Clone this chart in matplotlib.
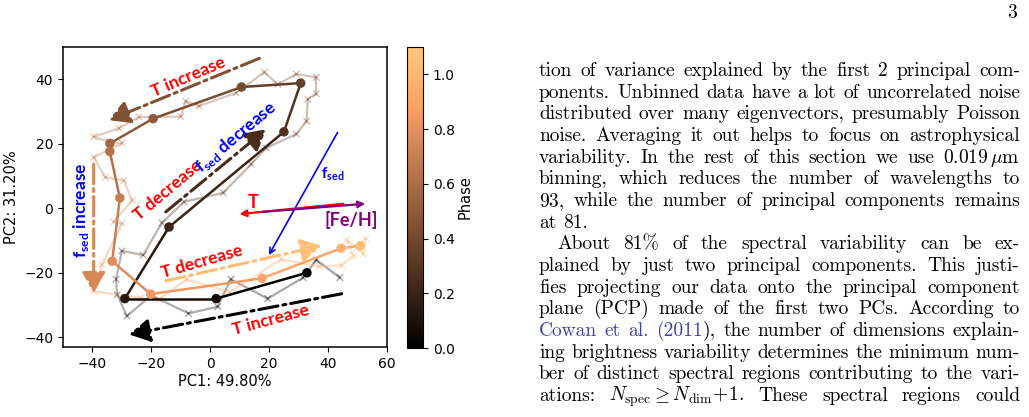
import numpy as np
import matplotlib.pyplot as plt
import matplotlib as mpl
from matplotlib.colors import Normalize
from matplotlib.transforms import IdentityTransform

plt.rcParams['mathtext.fontset'] = 'custom'
plt.rcParams['mathtext.rm'] = 'Lato:bold'
plt.rcParams['mathtext.bf'] = 'Lato:bold'

# binned PCP track (filled circles)
phase_bin = [0.0, 0.07, 0.14, 0.21, 0.28, 0.35, 0.42, 0.49,
             0.56, 0.63, 0.70, 0.77, 0.84, 0.91, 0.98, 1.05]
pc1_bin = [32.8, 2.0, -29.0, -14.0, 25.0, 30.7, 10.6, -19.4,
           -34.1, -34.1, -30.7, -33.3, -20.2, 17.6, 44.4, 50.9]
pc2_bin = [-20.0, -28.0, -28.0, -5.8, 23.7, 38.8, 37.6, 27.8,
           20.1, 17.6, 3.2, -16.4, -26.6, -21.7, -12.4, -11.6]

# unbinned track (faint, x markers)
phase_raw = [0.00, 0.02, 0.04, 0.06, 0.08, 0.10, 0.12, 0.14, 0.16, 0.18,
             0.20, 0.22, 0.24, 0.26, 0.28, 0.30, 0.32, 0.34, 0.36, 0.38,
             0.40, 0.42, 0.44, 0.46, 0.48, 0.50, 0.52, 0.54, 0.56, 0.58,
             0.60, 0.62, 0.64, 0.66, 0.68, 0.70, 0.72, 0.74, 0.76, 0.78,
             0.80, 0.82, 0.84, 0.86, 0.88, 0.90, 0.92, 0.94, 0.96, 0.98,
             1.00, 1.02, 1.04, 1.06, 1.08]
pc1_raw = [44.0, 36.0, 31.5, 19.5, 7.0, 2.5, -7.4, -20.0, -28.3, -31.6,
           -32.0, -30.0, -22.8, -16.4, -8.9, 4.4, 13.9, 19.0, 29.2, 32.7,
           33.1, 36.0, 36.0, 29.2, 22.9, 18.4, 8.8, -3.8, -8.3, -10.0,
           -24.2, -31.0, -39.6, -33.9, -29.9, -39.6, -35.6, -29.4, -26.5, -32.8,
           -29.9, -36.8, -39.6, -23.7, -17.4, -8.0, 6.6, 24.1, 37.0, 44.6,
           48.6, 46.3, 52.0, 52.9, 49.7]
pc2_raw = [-21.5, -16.0, -21.5, -28.0, -22.0, -30.5, -32.6, -27.0, -33.4, -26.8,
           -22.0, -13.2, -14.5, -4.5, 2.0, 4.8, 13.7, 18.7, 23.0, 27.0,
           33.8, 35.5, 40.6, 41.6, 38.4, 42.2, 35.8, 31.7, 33.2, 28.4,
           28.3, 24.8, 22.2, 20.4, 20.2, 15.8, 9.6, 8.6, 2.5, -4.2,
           -4.7, -17.5, -25.7, -27.8, -28.3, -22.0, -26.0, -15.8, -18.0, -17.7,
           -14.7, -9.8, -14.2, -9.3, -12.4]

# right-hand page text
page_lines = [
    "tion of variance explained by the first 2 principal com-",
    "ponents. Unbinned data have a lot of uncorrelated noise",
    "distributed over many eigenvectors, presumably Poisson",
    "noise. Averaging it out helps to focus on astrophysical",
    r"variability. In the rest of this section we use $0.019\,\mu$m",
    "binning, which reduces the number of wavelengths to",
    "93, while the number of principal components remains",
    "at 81.",
    "About 81% of the spectral variability can be ex-",
    "plained by just two principal components. This justi-",
    "fies projecting our data onto the principal component",
    "plane (PCP) made of the first two PCs. According to",
    "@Cowan @et @al. @(2011|), the number of dimensions explain-",
    "ing brightness variability determines the minimum num-",
    "ber of distinct spectral regions contributing to the vari-",
    r"ations: $N_{\rm spec}\geq N_{\rm dim}\!+\!1$. These spectral regions could",
]

cmap = mpl.colormaps['copper']
norm = Normalize(0, 1.1)

fig = plt.figure(figsize=(10.29, 4.17), dpi=100)
ax = fig.add_axes([63 / 1029, 70 / 417, 324 / 1029, 300 / 417])
cax = fig.add_axes([407 / 1029, 69 / 417, 16 / 1029, 301 / 417])

# faint unbinned track
for i in range(len(pc1_raw) - 1):
    ax.plot(pc1_raw[i:i + 2], pc2_raw[i:i + 2], color=cmap(norm(phase_raw[i])),
            alpha=0.35, lw=1.6, solid_capstyle='round')
ax.scatter(pc1_raw, pc2_raw, c=phase_raw, cmap=cmap, norm=norm, marker='x',
           s=22, lw=0.9, alpha=0.4)

# binned track
for i in range(len(pc1_bin) - 1):
    ax.plot(pc1_bin[i:i + 2], pc2_bin[i:i + 2], color=cmap(norm(phase_bin[i])),
            lw=1.8)
sc = ax.scatter(pc1_bin, pc2_bin, c=phase_bin, cmap=cmap, norm=norm, s=34,
                zorder=3)

ax.set_xlim(-50, 60)
ax.set_ylim(-43, 50)
ax.set_xticks([-40, -20, 0, 20, 40, 60])
ax.set_yticks([-40, -20, 0, 20, 40])
ax.tick_params(labelsize=10)
ax.set_xlabel("PC1: 49.80%", fontsize=10.5, labelpad=2)
ax.set_ylabel("PC2: 31.20%", fontsize=10.5, labelpad=4)
for s in ax.spines.values():
    s.set_linewidth(1.1)

cb = fig.colorbar(sc, cax=cax)
cb.set_ticks([0.0, 0.2, 0.4, 0.6, 0.8, 1.0])
cb.ax.tick_params(labelsize=10)
cb.set_label("Phase", fontsize=10.5, labelpad=2)


def trend_arrow(start, end, phase):
    ax.annotate('', xy=end, xytext=start,
                arrowprops=dict(arrowstyle='-|>,head_length=0.9,head_width=0.5',
                                color=cmap(norm(phase)), lw=2.2, ls='-.',
                                mutation_scale=14, shrinkA=0, shrinkB=0))


trend_arrow((16.7, 46.5), (-34.5, 27.3), 0.45)
trend_arrow((-15.1, -1.1), (19.0, 24.5), 0.25)
trend_arrow((-39.6, 13.7), (-39.6, -26.3), 0.75)
trend_arrow((-15.1, -22.5), (37.8, -11.6), 1.05)
trend_arrow((44.6, -26.5), (-27.6, -39.1), 0.0)

txt = dict(fontsize=12.5, fontweight='bold', family='Lato',
           ha='center', va='center', rotation_mode='anchor')
ax.text(-7.5, 40.6, "T increase", color='red', rotation=23, **txt)
ax.text(-14.5, 5.6, "T decrease", color='red', rotation=40, **txt)
ax.text(8.6, 22.0, r"f$_\mathbf{sed}$ decrease", color='blue', rotation=40, **txt)
ax.text(-44.0, -0.6, r"f$_\mathbf{sed}$ increase", color='blue', rotation=90, **txt)
ax.text(-2.7, -16.5, "T decrease", color='red', rotation=16, **txt)
ax.text(20.5, -34.7, "T increase", color='red', rotation=15, **txt)

# parameter directions
ax.annotate('', xy=(19.9, -14.5), xytext=(43.2, 23.5),
            arrowprops=dict(arrowstyle='->', color='blue', lw=1.2, shrinkA=0, shrinkB=0))
ax.annotate('', xy=(9.9, -1.8), xytext=(45.2, 1.4),
            arrowprops=dict(arrowstyle='-|>', color='red', lw=1.6, shrinkA=0, shrinkB=0))
ax.annotate('', xy=(52.6, 1.4), xytext=(17.9, -1.1),
            arrowprops=dict(arrowstyle='-|>', color='purple', lw=1.6, shrinkA=0, shrinkB=0))
ax.text(14.4, 1.9, "T", color='red', fontsize=13, fontweight='bold', family='Lato',
        ha='center', va='center')
ax.text(48.0, -3.7, "[Fe/H]", color='purple', fontsize=13, fontweight='bold',
        family='Lato', ha='center', va='center')
ax.text(41.7, 10.7, r"f$_\mathbf{sed}$", color='blue', fontsize=11,
        fontweight='bold', family='Lato', ha='center', va='center')

# page text, justified in pixel coordinates
renderer = fig.canvas.get_renderer()
link = '#4040b0'
body = dict(family='cmr10', fontsize=14.0, math_fontfamily='cm',
            transform=IdentityTransform(), va='baseline', ha='left')
x_left, x_right = 539, 1020
H = 417


def split_words(line):
    out = []
    for w in line.split(' '):
        if out and out[-1].count('$') % 2 == 1:
            out[-1] += ' ' + w
        else:
            out.append(w)
    return out


for k, line in enumerate(page_lines):
    y = H - (71 + 21.67 * k) - 5
    x0 = x_left + (18 if line.startswith("About") else 0)
    words = split_words(line)
    groups = []
    for w in words:
        parts = []
        for p in w.split('|'):
            col = link if p.startswith('@') else 'black'
            t = fig.text(0, y, p.lstrip('@'), color=col, **body)
            parts.append((t, t.get_window_extent(renderer).width))
        groups.append(parts)
    widths = [sum(p[1] for p in g) for g in groups]
    if k == 7 or len(groups) == 1:
        gap = 6.5
    else:
        gap = (x_right - x0 - sum(widths)) / (len(groups) - 1)
    x = x0
    for g, wd in zip(groups, widths):
        xx = x
        for t, w in g:
            t.set_x(xx)
            xx += w
        x += wd + gap

fig.text(1017, H - 18, "3", family='cmr10', fontsize=14.0,
         transform=IdentityTransform(), ha='right', va='baseline')

fig.savefig('out.png', dpi=100)
